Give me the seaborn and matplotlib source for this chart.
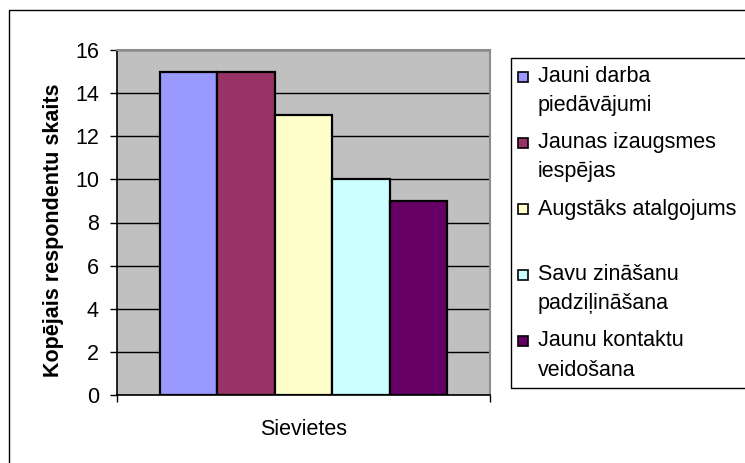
import matplotlib
matplotlib.use("Agg")
import matplotlib.pyplot as plt
from matplotlib.patches import Rectangle
from matplotlib.lines import Line2D
import seaborn as sns
import pandas as pd

# ---- data ----
group = ["Sievietes"]
categories = [
    "Jauni darba\npiedāvājumi",
    "Jaunas izaugsmes\niespējas",
    "Augstāks atalgojums",
    "Savu zināšanu\npadziļināšana",
    "Jaunu kontaktu\nveidošana",
]
values = [15, 15, 13, 10, 9]
colors = ["#9999FF", "#993366", "#FFFFCC", "#CCFFFF", "#660066"]
y_ticks = [0, 2, 4, 6, 8, 10, 12, 14, 16]
y_label = "Kopējais respondentu skaits"

df = pd.DataFrame({"group": group * len(categories),
                   "category": categories,
                   "value": values})

sns.set_theme(style="white")
plt.rcParams["font.family"] = ["Liberation Sans", "DejaVu Sans"]
FS = 15.5

W, H = 745, 463
fig = plt.figure(figsize=(W / 100, H / 100), dpi=100)
fig.patch.set_facecolor("white")

def fx(px):
    return px / W

def fy(py):
    return 1 - py / H

ax = fig.add_axes([fx(117), fy(395), fx(490) - fx(117), fy(50) - fy(395)])
ax.set_facecolor("#C0C0C0")

sns.barplot(data=df, x="group", y="value", hue="category",
            hue_order=categories, palette=colors, saturation=1,
            width=0.77, edgecolor="black", linewidth=1.6,
            legend=False, ax=ax, zorder=3)

ax.set_xlim(-0.5, 0.5)
ax.set_ylim(0, 16)
ax.set_yticks(y_ticks)
ax.set_yticklabels([str(t) for t in y_ticks], fontsize=FS, color="black")
ax.yaxis.grid(True, color="black", linewidth=1, zorder=1)
ax.set_axisbelow(True)
ax.tick_params(axis="y", direction="out", length=5, width=1, color="black",
               pad=8, left=True)

ax.set_xticks([0])
ax.set_xticklabels(group, fontsize=FS, color="black")
ax.tick_params(axis="x", which="major", length=0, pad=17)
ax.set_xticks([-0.5, 0.5], minor=True)
ax.tick_params(axis="x", which="minor", direction="out", length=5, width=1,
               color="black", bottom=True)
ax.set_xlabel("")

ax.set_ylabel(y_label, fontsize=FS, fontweight="bold", color="black")
ax.yaxis.set_label_coords(-0.142, 0.478)

for side in ["left", "bottom"]:
    ax.spines[side].set_color("black")
    ax.spines[side].set_linewidth(1.2)
for side in ["top", "right"]:
    ax.spines[side].set_color("#8C8C8C")
    ax.spines[side].set_linewidth(1.5)
ax.spines["bottom"].set_zorder(4)

# outer chart frame (left and top edges visible; the rest is cut off)
fig.add_artist(Line2D([fx(9), fx(9), 1.0], [0.0, fy(10), fy(10)],
                      transform=fig.transFigure, color="black", linewidth=1))

# legend box (right side cut off by the image edge)
fig.patches.append(Rectangle((fx(511), fy(388)), 1 - fx(511), fy(58) - fy(388),
                             transform=fig.transFigure, facecolor="white",
                             edgecolor="none"))
fig.add_artist(Line2D([1.0, fx(511), fx(511), 1.0],
                      [fy(58), fy(58), fy(388), fy(388)],
                      transform=fig.transFigure, color="black", linewidth=1))
slot = 66
first = 77
line_gap = 29
for i, (lab, col) in enumerate(zip(categories, colors)):
    yc = first + i * slot
    fig.patches.append(Rectangle((fx(518), fy(yc + 5)), fx(10), fy(yc - 5) - fy(yc + 5),
                                 transform=fig.transFigure, facecolor=col,
                                 edgecolor="black", linewidth=1.2))
    for j, line in enumerate(lab.split("\n")):
        fig.text(fx(538), fy(yc + j * line_gap), line, fontsize=FS,
                 ha="left", va="center", color="black")

fig.savefig("out.png", dpi=100)
